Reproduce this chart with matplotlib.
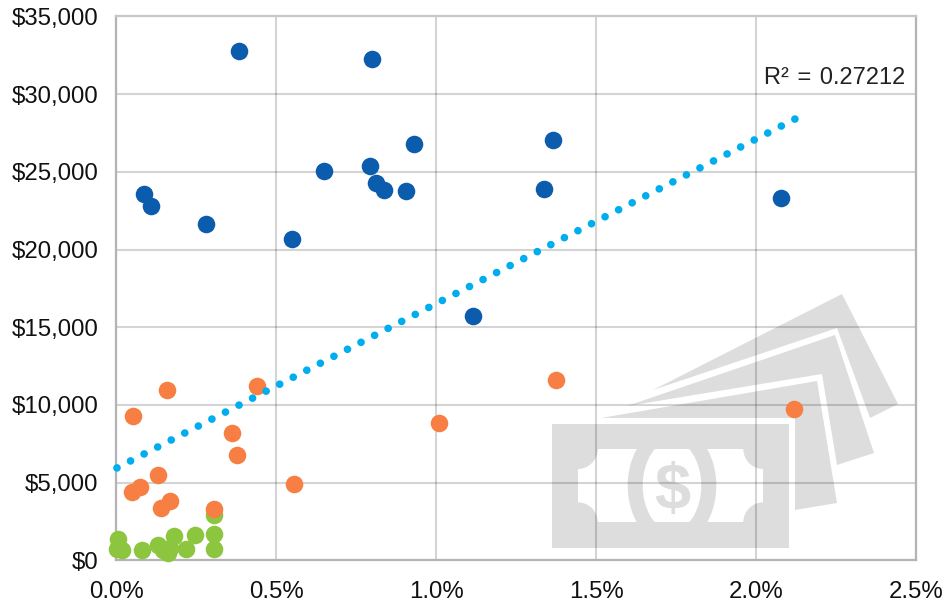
import matplotlib
matplotlib.use('Agg')
import matplotlib.pyplot as plt
from matplotlib.patches import Polygon, Rectangle, Ellipse, Circle
from matplotlib.ticker import FuncFormatter
from matplotlib.transforms import Affine2D

plt.rcParams['font.family'] = ['Liberation Sans', 'DejaVu Sans']

# values (x in %, y in $)
blue_x = [0.385, 0.80, 0.087, 0.109, 0.281, 0.549, 0.65, 0.793, 0.811, 0.836, 0.905, 0.93, 1.365, 1.338, 1.116, 2.077]
blue_y = [32750, 32250, 23550, 22800, 21650, 20700, 25050, 25350, 24250, 23800, 23750, 26800, 27050, 23900, 15700, 23300]

orange_x = [0.054, 0.159, 0.44, 0.363, 0.377, 0.13, 0.05, 0.075, 0.17, 0.14, 0.305, 0.555, 1.01, 1.375, 2.12]
orange_y = [9300, 10950, 11200, 8200, 6750, 5500, 4400, 4700, 3850, 3400, 3300, 4900, 8850, 11600, 9750]

green_x = [0.007, 0.002, 0.02, 0.08, 0.13, 0.147, 0.162, 0.18, 0.168, 0.22, 0.247, 0.307, 0.307, 0.307]
green_y = [1350, 750, 650, 700, 1000, 700, 500, 1600, 800, 750, 1650, 2900, 1700, 750]

trend_x = [0.003, 2.122]
trend_y = [5950, 28400]
r_squared = 'R²\u200a = \u200a0.27212'

x_ticks = [0.0, 0.5, 1.0, 1.5, 2.0, 2.5]
y_ticks = [0, 5000, 10000, 15000, 20000, 25000, 30000, 35000]

W, H = 946, 603
ICON = '#dddddd'

fig = plt.figure(figsize=(W / 100, H / 100), dpi=100)
ax = fig.add_axes([116 / W, 1 - 560.4 / H, 800 / W, 544 / H])

# background money icon, in picture pixels
px = Affine2D().scale(1 / W, -1 / H).translate(0, 1) + fig.transFigure

def icon_patch(patch, clip=None):
    patch.set_transform(px)
    patch.set_zorder(1)
    patch.set_clip_on(False)
    ax.add_patch(patch)
    if clip is not None:
        patch.set_clip_path(clip)
        patch.set_clip_on(True)
    return patch

icon_patch(Polygon([(653, 390), (842, 294), (898, 404), (870, 418), (837, 328)], fc=ICON, ec='none'))
icon_patch(Polygon([(627, 406), (835, 335), (874, 453), (837, 465), (822, 374)], fc=ICON, ec='none'))
icon_patch(Polygon([(601, 418), (817, 381), (837, 503), (795, 510), (795, 418)], fc=ICON, ec='none'))
icon_patch(Rectangle((552, 423.7), 237, 124, fc=ICON, ec='none'))
window = icon_patch(Rectangle((577.7, 449), 185.6, 73.3, fc='white', ec='none'))
for cx, cy in [(577.7, 449), (763.3, 449), (577.7, 522.3), (763.3, 522.3)]:
    icon_patch(Circle((cx, cy), 20, fc=ICON, ec='none'))
clip_rect = Rectangle((577.7, 449), 185.6, 73.3, transform=px)
icon_patch(Ellipse((672, 485.7), 88.6, 121, fc=ICON, ec='none'), clip=clip_rect)
icon_patch(Ellipse((672, 485.7), 58.6, 90, fc='white', ec='none'), clip=clip_rect)
ax.text(672, 485.7, '$', transform=px, fontsize=47, fontweight='bold', color=ICON,
        ha='center', va='center_baseline', zorder=1)

ax.scatter(green_x, green_y, s=160, color='#8cc63f', linewidths=0, zorder=3, clip_on=False)
ax.scatter(orange_x, orange_y, s=160, color='#f77f44', linewidths=0, zorder=4, clip_on=False)
ax.scatter(blue_x, blue_y, s=160, color='#0b5cad', linewidths=0, zorder=4, clip_on=False)
ax.plot(trend_x, trend_y, color='#00aeef', lw=5.5, ls=(0, (0.01, 1.986)), dash_capstyle='round', zorder=5, clip_on=False)

ax.text(2.466, 30650, r_squared, fontsize=17, color='#222222', ha='right', va='baseline')

ax.set_xlim(0, 2.5)
ax.set_ylim(0, 35000)
ax.set_xticks(x_ticks)
ax.set_yticks(y_ticks)
ax.xaxis.set_major_formatter(FuncFormatter(lambda v, _: f'{v:.1f}%'))
ax.yaxis.set_major_formatter(FuncFormatter(lambda v, _: f'${v:,.0f}'))
ax.tick_params(length=0, labelsize=17.3, labelcolor='#111111')
ax.tick_params(axis='x', pad=15)
ax.tick_params(axis='y', pad=12.5)
ax.set_axisbelow('line')
ax.grid(True, color='black', alpha=0.17, lw=1.5)
for s in ax.spines.values():
    s.set_color('#b4b4b8')
    s.set_linewidth(1.6)
ax.spines['top'].set_color('#c8c8c8')

fig.savefig('out.png', dpi=100)
